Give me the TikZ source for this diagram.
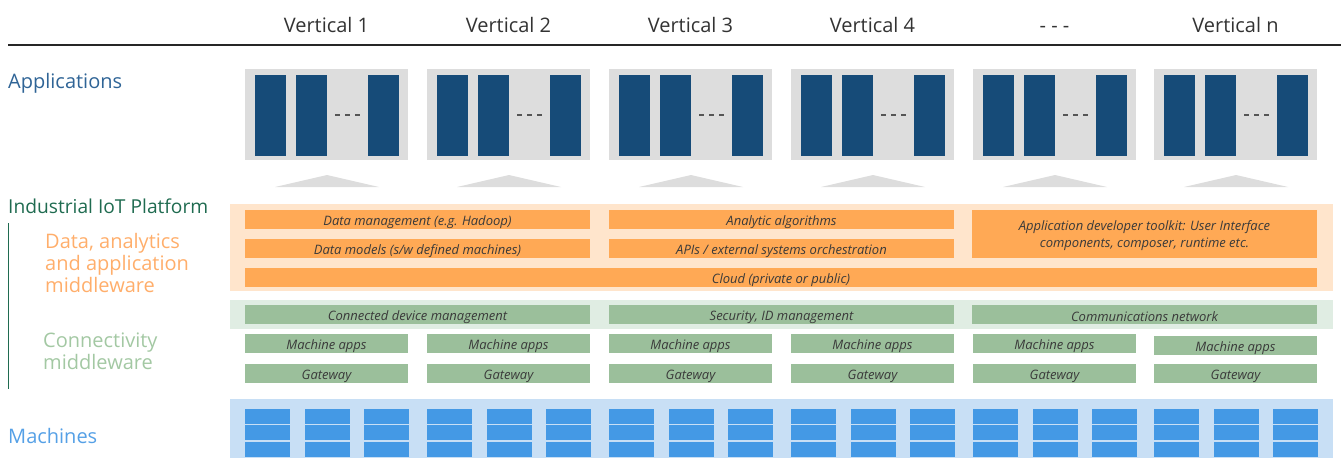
\documentclass[tikz,border=0pt]{standalone}
\usepackage{fontspec}
\setmainfont{Open Sans}
\definecolor{appblue}{HTML}{164B78}
\definecolor{appgray}{HTML}{DDDDDD}
\definecolor{dashgray}{HTML}{555555}
\definecolor{orbar}{HTML}{FFA955}
\definecolor{orpanel}{HTML}{FFE5CC}
\definecolor{grbar}{HTML}{9BBF9B}
\definecolor{grpanel}{HTML}{E0EDE3}
\definecolor{mcpanel}{HTML}{C8DFF5}
\definecolor{mccell}{HTML}{4499E5}
\definecolor{headtxt}{HTML}{333333}
\definecolor{bartxt}{HTML}{3A3A3A}
\definecolor{lblblue}{HTML}{2F6496}
\definecolor{lblgreen}{HTML}{1F6B50}
\definecolor{lblorange}{HTML}{FFAE6B}
\definecolor{lblltgreen}{HTML}{A3C8A3}
\definecolor{lblmc}{HTML}{55A0E6}
\tikzset{
  blk/.style={anchor=north west, inner sep=0pt, outer sep=0pt, draw=none},
  bartext/.style={font=\fontsize{13}{17}\selectfont\itshape, text=bartxt, inner sep=0pt, anchor=center},
  headlbl/.style={font=\fontsize{20}{24}\selectfont, text=headtxt, anchor=base},
  sidelbl/.style={font=\fontsize{20}{22}\selectfont, anchor=base west, inner sep=0pt},
}
% filled rectangle from (x1,y1) to (x2,y2): name, x1, y1, x2, y2, style
\newcommand\rectnode[6]{%
  \node[blk,#6,minimum width={(#4)-(#2)},minimum height={(#5)-(#3)}] (#1) at (#2,#3) {};}
% filled bar with a centred italic caption: name, x1, y1, x2, y2, colour, text
\newcommand\barnode[7]{%
  \rectnode{#1}{#2}{#3}{#4}{#5}{fill=#6}%
  \node[bartext] (#1-t) at ([yshift=-2.5]#1.center) {#7};}
\begin{document}
\begin{tikzpicture}[x=1pt,y=-1pt]
\useasboundingbox (0,0) rectangle (1341,458);

% header rule
\coordinate (ruleL) at (8,45);
\coordinate (ruleR) at (1341,45);
\draw[line width=2.5pt, color=black!85] (ruleL) -- (ruleR);

% side labels
\node[sidelbl, text=lblblue] (lapps) at (8,88) {Applications};
\node[sidelbl, text=lblgreen, font=\fontsize{19.2}{22}\selectfont] (liiot) at (8,213) {Industrial IoT Platform};
\coordinate (vlT) at (8.5,223);
\coordinate (vlB) at (8.5,389);
\draw[line width=1.6pt, color=lblgreen] (vlT) -- (vlB);
\node[sidelbl, text=lblorange] (ldata1) at (45,248) {Data, analytics};
\node[sidelbl, text=lblorange] (ldata2) at (45,270) {and application};
\node[sidelbl, text=lblorange] (ldata3) at (45,292) {middleware};
\node[sidelbl, text=lblltgreen] (lconn1) at (43,347) {Connectivity};
\node[sidelbl, text=lblltgreen] (lconn2) at (43,369) {middleware};
\node[sidelbl, text=lblmc] (lmach) at (8,443) {Machines};

% background panels
\rectnode{orp}{230}{204}{1333}{291}{fill=orpanel}
\rectnode{grp}{230}{300}{1333}{329}{fill=grpanel}
\rectnode{mcp}{230}{399}{1333}{458}{fill=mcpanel}

% platform bars
\barnode{dm}{245}{210}{590}{229}{orbar}{Data management (e.g. Hadoop)}
\barnode{dmod}{245}{239}{590}{258}{orbar}{Data models (s/w defined machines)}
\barnode{aa}{609}{210}{954}{229}{orbar}{Analytic algorithms}
\barnode{api}{609}{239}{954}{258}{orbar}{APIs / external systems orchestration}
\rectnode{adt}{972}{210}{1317}{258}{fill=orbar}
\node[bartext, align=center] (adt-t) at ([yshift=-1.5]adt.center) {Application developer toolkit: User Interface\\components, composer, runtime etc.};
\barnode{cloud}{245}{268}{1317}{287}{orbar}{Cloud (private or public)}
\barnode{cdm}{245}{305}{590}{324}{grbar}{Connected device management}
\barnode{sec}{609}{305}{954}{324}{grbar}{Security, ID management}
\barnode{com}{972}{305}{1317}{324}{grbar}{Communications network}

% one column per vertical
\foreach \i/\lbl in {0/Vertical 1,1/Vertical 2,2/Vertical 3,3/Vertical 4,4/- - -,5/Vertical n}{
  \pgfmathsetmacro\xo{245+182*\i-(\i==5?1:0)}
  \node[headlbl] (h\i) at (\xo+81.5,32) {\lbl};
  % application box
  \rectnode{app\i}{\xo}{69}{\xo+163}{160}{fill=appgray}
  \rectnode{apa\i}{\xo+10}{75}{\xo+41}{156}{fill=appblue}
  \rectnode{apb\i}{\xo+51}{75}{\xo+82}{156}{fill=appblue}
  \rectnode{apc\i}{\xo+123}{75}{\xo+154}{156}{fill=appblue}
  \rectnode{dsa\i}{\xo+90}{114}{\xo+95}{116}{fill=dashgray}
  \rectnode{dsb\i}{\xo+100}{114}{\xo+105}{116}{fill=dashgray}
  \rectnode{dsc\i}{\xo+110}{114}{\xo+115}{116}{fill=dashgray}
  % platform pointer
  \coordinate (tp\i) at (\xo+82,175);
  \coordinate (tl\i) at (\xo+30,187);
  \coordinate (tr\i) at (\xo+134,187);
  \fill[appgray] (tl\i) -- (tp\i) -- (tr\i) -- cycle;
  % machine apps and gateway
  \pgfmathsetmacro\ma{\i==5?336:334}
  \barnode{ma\i}{\xo}{\ma}{\xo+163}{\ma+19}{grbar}{Machine apps}
  \barnode{gw\i}{\xo}{364}{\xo+163}{383}{grbar}{Gateway}
  % machines
  \foreach \c in {0,1,2}{
    \foreach \r/\ya/\yb in {0/408.5/423.5,1/425/440,2/442/457}{
      \rectnode{mc\i\c\r}{\xo+59.5*\c}{\ya}{\xo+59.5*\c+45}{\yb}{fill=mccell}
    }
  }
}
\end{tikzpicture}
\end{document}
